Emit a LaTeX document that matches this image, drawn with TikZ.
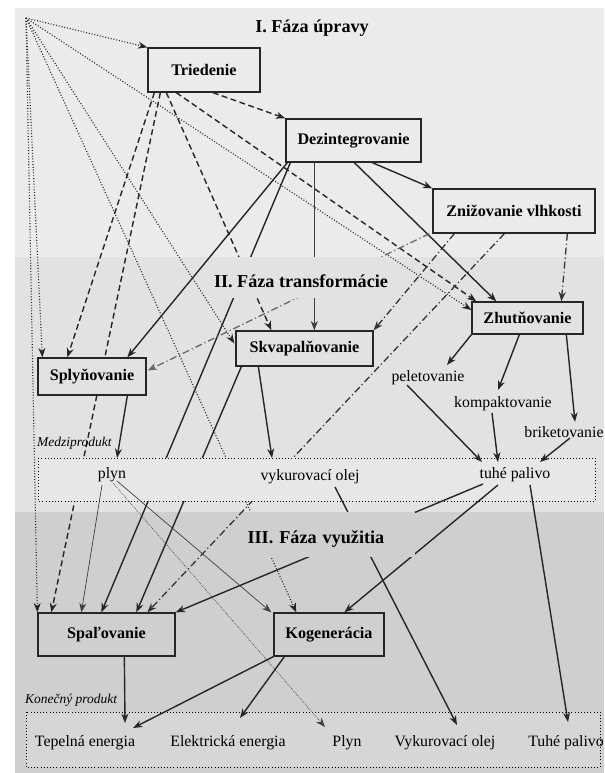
\documentclass[tikz,border=0pt]{standalone}
\usepackage{fontspec}
\setmainfont{Liberation Serif}
\usetikzlibrary{arrows.meta}

\definecolor{bandup}{HTML}{EBEBEB}
\definecolor{bandtr}{HTML}{E2E2E2}
\definecolor{bandvy}{HTML}{CFCFCF}
\definecolor{medzifill}{HTML}{E7E7E7}
\definecolor{konfill}{HTML}{D6D6D6}

\pgfdeclarelayer{bands}
\pgfdeclarelayer{links}
\pgfdeclarelayer{panels}
\pgfdeclarelayer{heads}
\pgfsetlayers{bands,links,panels,main,heads}

\begin{document}
\begin{tikzpicture}[x=0.03cm,y=-0.03cm,
    >={Stealth[length=8pt,width=6pt,inset=2.5pt]},
    box/.style={draw=black!85,line width=1.1pt,fill=#1,inner sep=0pt,
        font=\fontsize{13.8}{16}\selectfont\bfseries},
    prod/.style={inner sep=1pt,font=\fontsize{13.5}{16}\selectfont},
    panellabel/.style={anchor=west,inner sep=0pt,font=\fontsize{11.5}{13}\selectfont\itshape},
    faza/.style={fill=#1,inner sep=0pt,font=\fontsize{15.5}{18}\selectfont\bfseries},
    solidlink/.style={->,line width=1.2pt,black!85},
    thinlink/.style={->,line width=0.6pt,black!75},
    dashlink/.style={->,line width=1.2pt,black!85,dash pattern=on 5pt off 3pt},
    dotlink/.style={->,line width=1pt,black!85,dash pattern=on 0.8pt off 1.6pt},
    dashdotlink/.style={->,line width=1.1pt,black!80,dash pattern=on 6pt off 2.5pt on 1pt off 2.5pt},
]
    \useasboundingbox (0,0) rectangle (604,773);

    % phase bands
    \begin{pgfonlayer}{bands}
        \fill[white] (0,0) rectangle (604,773);
        \fill[bandup] (15,8) rectangle (604,257);
        \fill[bandtr] (15,257) rectangle (604,512);
        \fill[bandvy] (15,512) rectangle (604,773);
    \end{pgfonlayer}

    % titles
    \begin{pgfonlayer}{heads}
        \node[faza=bandup] (fazaI) at (312,28) {I. Fáza úpravy};
        \node[faza=bandtr,text height=26.4pt,text depth=8.5pt,inner xsep=2pt] (fazaII) at (301,277.5) {II. Fáza transformácie};
        \node[faza=bandvy,text height=26.4pt,text depth=11.9pt,inner xsep=2pt,
            anchor=west,text width=4.95cm,align=left] (fazaIII) at (245,534.5) {III. Fáza využitia};
    \end{pgfonlayer}

    \coordinate (src) at (26,18);

    % process boxes
    \node[box=bandup,minimum width=3.36cm,minimum height=1.32cm] (triedenie) at (204,70) {Triedenie};
    \node[box=bandup,minimum width=4.05cm,minimum height=1.29cm] (dezintegrovanie) at (353.5,140.5) {Dezintegrovanie};
    \node[box=bandup,minimum width=4.86cm,minimum height=1.32cm] (znizovanie) at (514,211) {Znižovanie vlhkosti};
    \node[box=bandtr,minimum width=3.33cm,minimum height=0.96cm] (zhutnovanie) at (527.5,318) {Zhutňovanie};
    \node[box=bandtr,minimum width=4.11cm,minimum height=1.05cm] (skvapalnovanie) at (304.5,348.5) {Skvapalňovanie};
    \node[box=bandtr,minimum width=3.24cm,minimum height=1.11cm] (splynovanie) at (92,376.5) {Splyňovanie};
    \node[box=bandvy,minimum width=4.11cm,minimum height=1.29cm] (spalovanie) at (106.5,634.5) {Spaľovanie};
    \node[box=bandvy,minimum width=3.30cm,minimum height=1.29cm] (kogeneracia) at (329,634.5) {Kogenerácia};

    % compaction ways
    \node[prod] (peletovanie) at (428,378) {peletovanie};
    \node[prod] (kompaktovanie) at (503,404) {kompaktovanie};
    \node[prod] (briketovanie) at (564,432) {briketovanie};

    % intermediate and final products
    \begin{pgfonlayer}{panels}
        \draw[dotted,line width=0.7pt,fill=medzifill] (38,458) rectangle (595,501);
        \draw[dotted,line width=0.7pt,fill=konfill] (26,712) rectangle (600,767);
    \end{pgfonlayer}
    \node[panellabel] (medziprodukt) at (37,443) {Medziprodukt};
    \node[panellabel] (konecny) at (25,700) {Konečný produkt};
    \node[prod] (plyn) at (112,475) {plyn};
    \node[prod] (vykurolej) at (310,477) {vykurovací olej};
    \node[prod] (tuhepalivo) at (515,475) {tuhé palivo};
    \node[prod] (tepelna) at (85,743) {Tepelná energia};
    \node[prod] (elektricka) at (228,743) {Elektrická energia};
    \node[prod] (plynK) at (347,743) {Plyn};
    \node[prod] (vykurolejK) at (445,743) {Vykurovací olej};
    \node[prod] (tuhepalivoK) at (566,743) {Tuhé palivo};

    \begin{pgfonlayer}{links}
        % dotted from the common source
        \draw[dotlink] (src) -- (triedenie.north west);
        \draw[dotlink] (src) -- ([shift={(0,-8)}]zhutnovanie.west);
        \draw[dotlink] (src) -- ([shift={(-1,-5)}]skvapalnovanie.west);
        \draw[dotlink] (src) -- ([shift={(23,0)}]kogeneracia.north west);
        \draw[dotlink] (src) -- ([shift={(5,0)}]splynovanie.north west);
        \draw[dotlink] (src) -- (spalovanie.north west);
        % dashed from Triedenie
        \draw[dashlink] ([shift={(9,0)}]triedenie.south) -- (dezintegrovanie.north west);
        \draw[dashlink] ([shift={(7,0)}]triedenie.south west) -- ([shift={(30,0)}]splynovanie.north west);
        \draw[dashlink] ([shift={(13,0)}]triedenie.south west) -- ([shift={(14,0)}]spalovanie.north west);
        \draw[dashlink] ([shift={(19,0)}]triedenie.south west) -- ([shift={(36,0)}]skvapalnovanie.north west);
        \draw[dashlink] ([shift={(29,0)}]triedenie.south west) -- ([shift={(5,0)}]zhutnovanie.north west);
        % solid from Dezintegrovanie
        \draw[solidlink] ([shift={(87,0)}]dezintegrovanie.south west) -- (znizovanie.north west);
        \draw[solidlink] ([shift={(69,0)}]dezintegrovanie.south west) -- ([shift={(25,0)}]zhutnovanie.north west);
        \draw[thinlink,line width=0.7pt] ([shift={(29,0)}]dezintegrovanie.south west) -- ([shift={(79,0)}]skvapalnovanie.north west);
        \draw[solidlink] ([shift={(2,0)}]dezintegrovanie.south west) -- ([shift={(90,0)}]splynovanie.north west);
        \draw[solidlink] ([shift={(5,0)}]dezintegrovanie.south west) -- ([shift={(64,0)}]spalovanie.north west);
        % dash-dot from Znizovanie vlhkosti
        \draw[dashdotlink] ([shift={(135,0)}]znizovanie.south west) -- ([shift={(90,0)}]zhutnovanie.north west);
        \draw[dashdotlink] ([shift={(22,0)}]znizovanie.south west) -- (skvapalnovanie.north east);
        \draw[dashdotlink,black!60] ([shift={(-3,0)}]znizovanie.south west) -- ([shift={(1,-6)}]splynovanie.east);
        \draw[dashdotlink] ([shift={(72,0)}]znizovanie.south west) -- ([shift={(110,0)}]spalovanie.north west);
        % Skvapalnovanie to Spalovanie
        \draw[solidlink] ([shift={(6,0)}]skvapalnovanie.south west) -- ([shift={(99,0)}]spalovanie.north west);
    \end{pgfonlayer}

    % into the intermediate products
    \draw[solidlink] ([shift={(23,0)}]skvapalnovanie.south west) -- ([shift={(-38,-19)}]vykurolej.center);
    \draw[solidlink] ([shift={(90,0)}]splynovanie.south west) -- ([shift={(5,-17)}]plyn.center);
    \draw[solidlink] (zhutnovanie.south west) -- ([shift={(19,-13)}]peletovanie.center);
    \draw[solidlink] ([shift={(48,0)}]zhutnovanie.south west) -- ([shift={(-5,-14)}]kompaktovanie.center);
    \draw[solidlink] ([shift={(95,0)}]zhutnovanie.south west) -- ([shift={(11,-10)}]briketovanie.center);
    \draw[solidlink] ([shift={(-21,7)}]peletovanie.center) -- ([shift={(-33,-13)}]tuhepalivo.center);
    \draw[solidlink] ([shift={(-11,9)}]kompaktovanie.center) -- ([shift={(-17,-13)}]tuhepalivo.center);
    \draw[solidlink] ([shift={(6,6)}]briketovanie.center) -- ([shift={(25,-13)}]tuhepalivo.center);

    % use of the intermediate products
    \draw[thinlink] ([shift={(-10,10)}]plyn.center) -- ([shift={(44,0)}]spalovanie.north west);
    \draw[thinlink] ([shift={(5,6)}]plyn.center) -- ([shift={(-2,0)}]kogeneracia.north west);
    \draw[thinlink,densely dotted] ([shift={(1,8)}]plyn.center) -- ([shift={(-22,-16)}]plynK.center);
    \draw[solidlink] ([shift={(25,10)}]vykurolej.center) -- ([shift={(12,-18)}]vykurolejK.center);
    \draw[solidlink] ([shift={(-32,9)}]tuhepalivo.center) -- (spalovanie.north east);
    \draw[solidlink] ([shift={(-17,10)}]tuhepalivo.center) -- ([shift={(71,0)}]kogeneracia.north west);
    \draw[solidlink] ([shift={(15,10)}]tuhepalivo.center) -- ([shift={(2,-21)}]tuhepalivoK.center);

    % final products
    \draw[solidlink] ([shift={(87,0)}]spalovanie.south west) -- ([shift={(40,-20)}]tepelna.center);
    \draw[solidlink] (kogeneracia.south west) -- ([shift={(48,-15)}]tepelna.center);
    \draw[solidlink] ([shift={(11,0)}]kogeneracia.south west) -- ([shift={(12,-25)}]elektricka.center);
\end{tikzpicture}
\end{document}
